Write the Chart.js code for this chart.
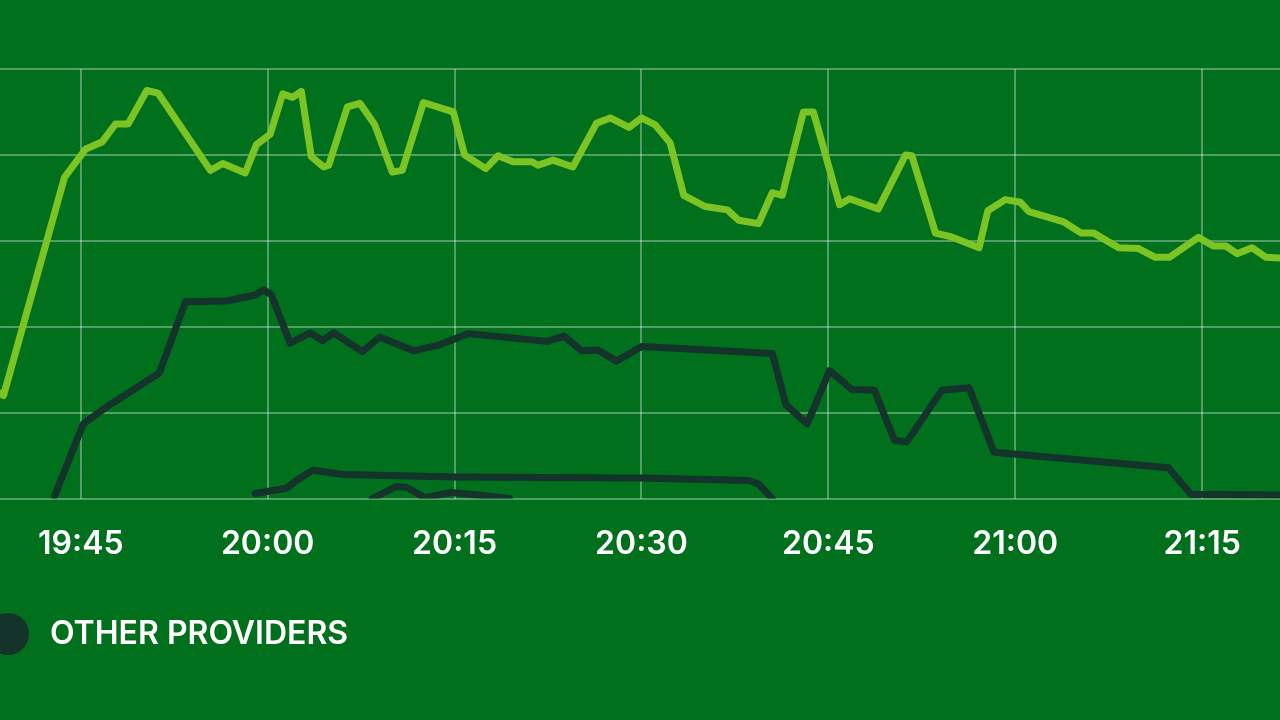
<!DOCTYPE html>
<html>
<head>
<meta charset="utf-8">
<script src="https://cdn.jsdelivr.net/npm/chart.js@4/dist/chart.umd.min.js"></script>
<style>
  html, body { margin: 0; padding: 0; width: 1280px; height: 720px; overflow: hidden; background: #00701d; }
  #wrap { position: absolute; left: -26px; top: 0; width: 1306px; height: 720px; }
</style>
</head>
<body>
<div id="wrap"><canvas id="line-chart"></canvas></div>
<script>
// times are minutes after 19:00
const mainTimes = [37.9, 38.8, 43.7, 45.4, 46.7, 47.8, 48.8, 50.3, 51.2, 55.4, 56.4, 58.2, 59.1, 60.2, 61.2, 62.0, 62.7, 63.5, 64.5, 64.9,
  66.4, 67.4, 68.6, 70.0, 70.8, 72.5, 74.9, 75.8, 77.5, 78.5, 79.7, 81.2, 81.7, 82.9, 84.5, 86.4, 87.5, 89.0, 90.0, 91.1,
  92.3, 93.4, 95.1, 96.9, 97.8, 99.4, 100.5, 101.3, 103.0, 103.8, 105.9, 106.7, 109.0, 111.2, 111.7, 113.6, 114.8, 117.1, 117.8, 119.2,
  120.4, 121.1, 123.9, 125.3, 126.3, 128.3, 129.9, 131.2, 132.4, 134.7, 135.9, 136.9, 137.8, 139.0, 140.1, 141.3, 142.0]
const mainValues = [12.8, 12.0, 37.4, 40.7, 41.5, 43.6, 43.6, 47.5, 47.2, 38.2, 39.0, 37.9, 41.2, 42.4, 47.1, 46.7, 47.4, 39.8, 38.6, 38.8,
  45.6, 46.0, 43.5, 38.0, 38.2, 46.1, 45.0, 40.0, 38.4, 39.9, 39.2, 39.2, 38.8, 39.4, 38.6, 43.7, 44.3, 43.2, 44.3, 43.5,
  41.4, 35.3, 34.0, 33.6, 32.4, 32.0, 35.6, 35.3, 45.0, 45.0, 34.2, 34.9, 33.7, 40.0, 39.9, 30.9, 30.5, 29.2, 33.5, 34.8,
  34.5, 33.4, 32.2, 30.9, 30.9, 29.2, 29.1, 28.1, 28.1, 30.4, 29.4, 29.4, 28.5, 29.2, 28.1, 28.0, 27.9]

const otherTimes = [42.9, 45.2, 47.3, 51.3, 53.4, 56.7, 59.0, 59.7, 60.3, 61.8, 63.4, 64.4, 65.3, 67.6, 69.0, 71.7, 73.8, 76.1, 82.4, 83.8,
  85.2, 86.5, 88.0, 90.0, 100.5, 101.6, 103.3, 105.1, 106.9, 108.7, 110.3, 111.3, 114.1, 116.3, 118.3, 132.3, 134.1, 142.0]
const otherValues = [0.3, 8.7, 10.9, 14.6, 22.9, 23.0, 23.7, 24.3, 23.7, 18.1, 19.3, 18.4, 19.3, 17.1, 18.8, 17.2, 17.9, 19.2, 18.3, 18.9,
  17.2, 17.3, 16.0, 17.7, 16.9, 10.9, 8.7, 14.9, 12.7, 12.6, 6.8, 6.6, 12.6, 12.9, 5.4, 3.6, 0.5, 0.4]

const smallATimes = [59.0, 61.5, 62.3, 63.6, 66.1, 75.0, 90.0, 98.6, 99.4, 100.5]
const smallAValues = [0.6, 1.2, 2.1, 3.3, 2.8, 2.5, 2.4, 2.1, 1.7, 0.0]

const smallBTimes = [68.4, 70.3, 71.2, 72.6, 74.6, 76.3, 79.4]
const smallBValues = [0.0, 1.4, 1.3, 0.1, 0.7, 0.5, 0.0]

const tickLabels = ['19:45', '20:00', '20:15', '20:30', '20:45', '21:00', '21:15']

const toMinutes = t => (parseInt(t.split(':')[0]) - 19) * 60 + parseInt(t.split(':')[1])
const toPoints = (times, values) => times.map((t, i) => ({x: t, y: values[i]}))

const light = '#7cc423'
const dark = '#13332b'
const gridColor = 'rgba(255,255,255,0.32)'

// legend dot, drawn a bit left of the box centre
const dot = document.createElement('canvas')
dot.width = 70
dot.height = 44
const dctx = dot.getContext('2d')
dctx.fillStyle = dark
dctx.beginPath()
dctx.arc(25, 22, 21, 0, Math.PI * 2)
dctx.fill()

const lineStyle = color => ({
  borderColor: color,
  backgroundColor: color,
  borderWidth: 7,
  pointRadius: 0,
  tension: 0,
  fill: false,
  borderJoinStyle: 'round',
  borderCapStyle: 'round'
})

Chart.defaults.font.family = 'Inter'
Chart.defaults.font.weight = '600'

new Chart(document.getElementById('line-chart'), {
  type: 'line',
  data: {
    datasets: [
      {label: 'TOTAL', data: toPoints(mainTimes, mainValues), ...lineStyle(light)},
      {label: 'OTHER PROVIDERS', data: toPoints(otherTimes, otherValues), ...lineStyle(dark)},
      {label: 'A', data: toPoints(smallATimes, smallAValues), ...lineStyle(dark)},
      {label: 'B', data: toPoints(smallBTimes, smallBValues), ...lineStyle(dark)}
    ]
  },
  options: {
    responsive: true,
    maintainAspectRatio: false,
    animation: false,
    layout: {padding: {top: 69, bottom: 60, left: 0, right: 0}},
    scales: {
      x: {
        type: 'linear',
        min: 36.43,
        max: 141.25,
        afterBuildTicks: axis => { axis.ticks = tickLabels.map(t => ({value: toMinutes(t)})) },
        grid: {color: gridColor, lineWidth: 2, drawTicks: false},
        border: {display: false},
        ticks: {
          color: '#ffffff',
          font: {size: 32, weight: '600'},
          padding: 26.5,
          maxRotation: 0,
          autoSkip: false,
          callback: (v, i) => tickLabels[i]
        }
      },
      y: {
        min: 0,
        max: 50,
        grid: {color: gridColor, lineWidth: 2, drawTicks: false},
        border: {display: false},
        ticks: {display: false, stepSize: 10}
      }
    },
    plugins: {
      legend: {
        position: 'bottom',
        align: 'start',
        labels: {
          filter: item => item.text === 'OTHER PROVIDERS',
          usePointStyle: true,
          pointStyle: dot,
          boxWidth: 32,
          boxHeight: 32,
          padding: 28,
          color: '#ffffff',
          font: {size: 32, weight: '600'}
        }
      },
      tooltip: {enabled: false}
    }
  }
});
</script>
</body>
</html>
